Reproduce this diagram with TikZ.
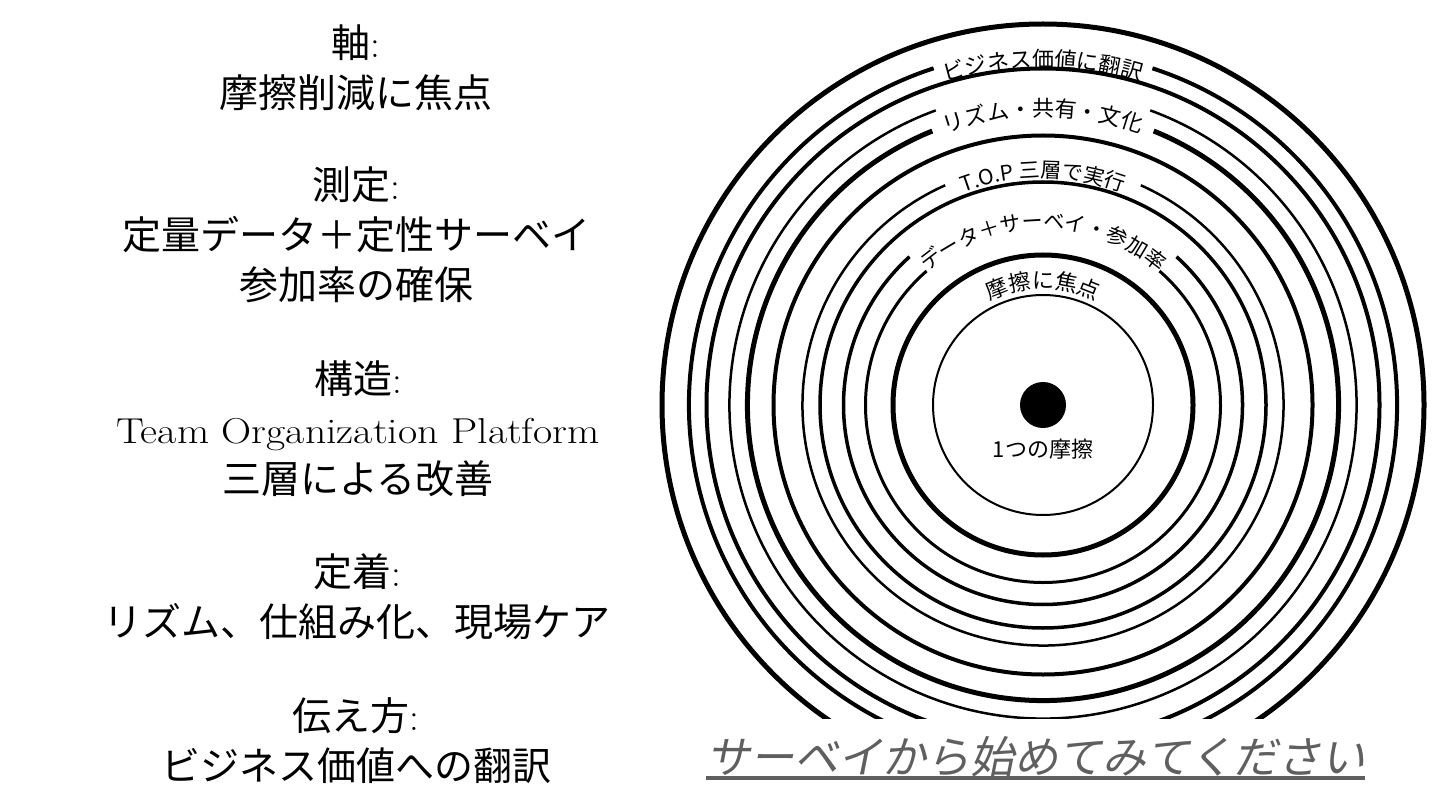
\documentclass[tikz,border=0pt]{standalone}
\usepackage{fontspec}
\usepackage{graphicx}
\newfontfamily\jpfont{Noto Sans CJK JP}
\newfontfamily\jpslant{Noto Sans CJK JP}[FakeSlant=0.2]
\usetikzlibrary{decorations.text}
\definecolor{ctagray}{RGB}{95,95,95}

\begin{document}
\begin{tikzpicture}[x=1pt, y=1pt,
    leftbox/.style={align=center, inner sep=0pt, font=\fontsize{39}{50}\selectfont},
    ringtext/.style={decorate, decoration={text along path, text align=center, text={#1}}}]
    % 1. Khung hinh va tam vong tron
    \useasboundingbox (0,0) rectangle (1440,-810);
    \coordinate (c) at (1043,-405);

    % 2. Cot chu ben trai
    \node[leftbox] (axis) at (356,-68) {{\jpfont 軸}:\\{\jpfont 摩擦削減に焦点}};
    \node[leftbox] (measure) at (356,-235) {{\jpfont 測定}:\\{\jpfont 定量データ＋定性サーベイ}\\{\jpfont 参加率の確保}};
    \node[leftbox] (structure) at (358,-429) {{\jpfont 構造}:\\\scalebox{1.16}[1]{\fontsize{36}{50}\selectfont Team Organization Platform}\\{\jpfont 三層による改善}};
    \node[leftbox] (habit) at (357,-597) {{\jpfont 定着}:\\{\jpfont リズム、仕組み化、現場ケア}};
    \node[leftbox] (convey) at (356,-741) {{\jpfont 伝え方}:\\{\jpfont ビジネス価値への翻訳}};

    % 3. Cac vong tron dong tam (cat o duoi)
    \begin{scope}
        \clip (600,-718) rectangle (1440,0);
        \foreach \r/\w/\g in {110/2/0, 150/5/0, 177.5/3/41, 199.5/3.5/42, 223/3.5/0, 240.5/2.5/24,
                              269.5/4/0, 295.5/5/22, 313.5/2.5/20, 336.5/4/0, 354/4/18, 381/5/0}
            \draw[line width=\w] ([shift={(90+\g:\r)}]c) arc[start angle=90+\g, end angle=450-\g, radius=\r];
    \end{scope}

    % 4. Chu tren cac vong
    \path[ringtext={|\jpfont\fontsize{22}{22}\selectfont|ビジネス価値に翻訳}]
        ([shift={(160:337.6)}]c) arc[start angle=160, end angle=20, radius=337.6];
    \path[ringtext={|\jpfont\fontsize{22}{22}\selectfont|リズム・共有・文化}]
        ([shift={(160:288.6)}]c) arc[start angle=160, end angle=20, radius=288.6];
    \path[ringtext={|\jpfont\fontsize{21}{21}\selectfont|T.O.P 三層で実行}]
        ([shift={(160:227)}]c) arc[start angle=160, end angle=20, radius=227];
    \path[ringtext={|\jpfont\fontsize{21}{21}\selectfont|データ＋サーベイ・参加率}]
        ([shift={(170:176)}]c) arc[start angle=170, end angle=10, radius=176];
    \path[ringtext={|\jpfont\fontsize{22}{22}\selectfont|摩擦に焦点}]
        ([shift={(160:116.5)}]c) arc[start angle=160, end angle=20, radius=116.5];

    % 5. Cham tam va nhan
    \node[circle, fill, minimum size=46pt, inner sep=0pt] (dot) at (c) {};
    \node[font=\jpfont\fontsize{22}{22}\selectfont] (one) at (1043,-449) {1つの摩擦};

    % 6. Loi keu goi
    \node[inner sep=0pt, text=ctagray, font=\jpslant\fontsize{44}{44}\selectfont] (cta) at (1036,-757) {サーベイから始めてみてください};
    \draw[ctagray, line width=4pt] (706,-778) -- (1365,-778);
\end{tikzpicture}
\end{document}
